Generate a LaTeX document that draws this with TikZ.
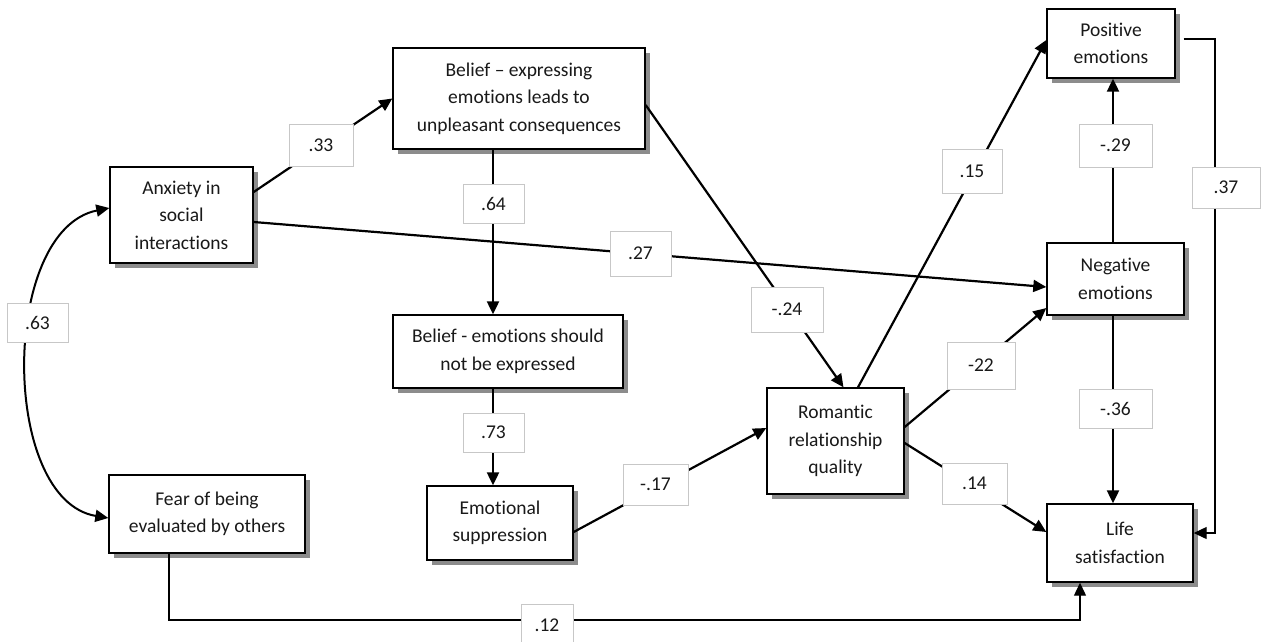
\documentclass[tikz,border=0pt]{standalone}
\usepackage{fontspec}
\setmainfont{Carlito}[Ligatures={NoCommon}, RawFeature={-liga;-calt}]
\usetikzlibrary{arrows.meta,shadows}
\begin{document}
\begin{tikzpicture}[x=1pt,y=-1pt,
  txt/.style={font=\fontsize{19.5}{27.5}\selectfont, text=black!90},
  box/.style={txt, draw=black, line width=1.4pt, fill=white, align=center, inner sep=2pt,
    drop shadow={shadow xshift=5pt, shadow yshift=-5pt, fill=black!45, opacity=1}},
  lbl/.style={txt, draw=black!22, line width=1pt, fill=white, inner sep=0pt},
  tip/.tip={Triangle[length=13pt,width=12pt]},
  arr/.style={line width=2.2pt, -tip},
  thinarr/.style={line width=1.2pt, -tip}
]
\useasboundingbox (0,0) rectangle (1262,641);
\fill[white] (0,0) rectangle (1262,641);

% boxes
\node[box, minimum width=143pt, minimum height=96pt] (anx) at (181.5,215) {Anxiety in\\social\\interactions};
\node[box, minimum width=196pt, minimum height=78pt] (fear) at (207,514) {Fear of being\\evaluated by others};
\node[box, minimum width=252pt, minimum height=101pt] (bel1) at (519,98.5) {Belief -- expressing\\emotions leads to\\unpleasant consequences};
\node[box, minimum width=230pt, minimum height=73pt] (bel2) at (508,351.5) {Belief - emotions should\\not be expressed};
\node[box, minimum width=146pt, minimum height=74pt] (sup) at (500,523) {Emotional\\suppression};
\node[box, minimum width=137pt, minimum height=106pt] (rom) at (835.5,441) {Romantic\\relationship\\quality};
\node[box, minimum width=128pt, minimum height=69pt] (pos) at (1111,43.5) {Positive\\emotions};
\node[box, minimum width=137pt, minimum height=72pt] (neg) at (1115.5,279) {Negative\\emotions};
\node[box, minimum width=146pt, minimum height=78pt] (life) at (1120,543) {Life\\satisfaction};

% connectors
\draw[arr] ([yshift=23pt]anx.east) -- (bel1.west);
\draw[arr] ([yshift=-7pt]anx.east) -- ([yshift=-8pt]neg.west);
\draw[arr] (493,0 |- bel1.south) -- (493,0 |- bel2.north);
\draw[arr] (493,0 |- bel2.south) -- (493,0 |- sup.north);
\draw[arr] ([yshift=-9pt]sup.east) -- ([yshift=13pt]rom.west);
\draw[arr] ([yshift=-6.5pt]bel1.east) -- ([xshift=8pt]rom.north);
\draw[arr] ([xshift=22.5pt]rom.north) -- ([yshift=3.5pt]pos.west);
\draw[arr] ([yshift=14pt]rom.east) -- ([yshift=-29pt]neg.west);
\draw[arr] ([yshift=-2pt]rom.east) -- ([yshift=11pt]life.west);
\draw[arr] (1113,0 |- neg.north) -- (1113,0 |- pos.south);
\draw[arr] (1113,0 |- neg.south) -- (1113,0 |- life.north);
\coordinate (c1) at (1215,39);
\coordinate (c2) at (1215,533);
\draw[thinarr] ([xshift=8pt,yshift=4.5pt]pos.east) -- (c1) -- (c2) -- ([yshift=10pt]life.east);
\coordinate (c3) at (169,620);
\draw[thinarr] ([xshift=-38pt]fear.south) -- (c3) -| ([xshift=-40pt]life.south);
\draw[line width=2pt, tip-tip] ([yshift=7pt]anx.west) .. controls (0,230) and (0,500) .. ([yshift=-4pt]fear.west);

% labels
\node[lbl, minimum width=64pt, minimum height=42pt] (l33) at (321,145) {.33};
\node[lbl, minimum width=61pt, minimum height=39pt] (l64) at (493.5,203.5) {.64};
\node[lbl, minimum width=61pt, minimum height=45pt] (l27) at (640.5,253.5) {.27};
\node[lbl, minimum width=72pt, minimum height=45pt] (l24) at (787,309.5) {-.24};
\node[lbl, minimum width=60pt, minimum height=44pt] (l15) at (972,171) {.15};
\node[lbl, minimum width=61pt, minimum height=39pt] (l73) at (493.5,432.5) {.73};
\node[lbl, minimum width=65pt, minimum height=41pt] (l17) at (655.5,484.5) {-.17};
\node[lbl, minimum width=68pt, minimum height=47pt] (l22) at (981,365.5) {-22};
\node[lbl, minimum width=65pt, minimum height=41pt] (l14) at (974.5,483.5) {.14};
\node[lbl, minimum width=73pt, minimum height=43pt] (l29) at (1115.5,145.5) {-.29};
\node[lbl, minimum width=68pt, minimum height=41pt] (l37) at (1226,187.5) {.37};
\node[lbl, minimum width=73pt, minimum height=39pt] (l36) at (1115.5,408.5) {-.36};
\node[lbl, minimum width=61pt, minimum height=39pt] (l63) at (37.5,322.5) {.63};
\node[lbl, minimum width=52pt, minimum height=42pt] (l12) at (547,625) {.12};
\end{tikzpicture}
\end{document}
